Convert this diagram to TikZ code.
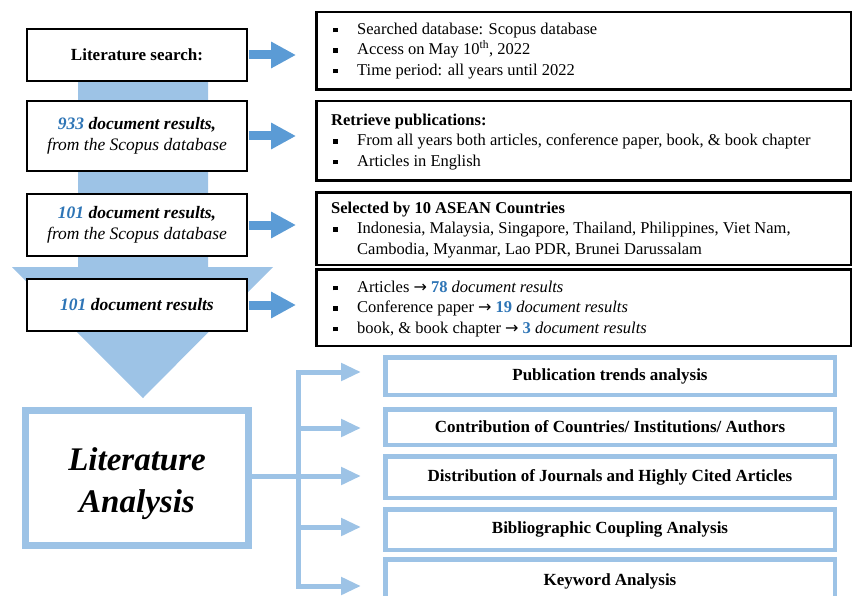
\documentclass[tikz,border=0pt]{standalone}
\usepackage{fontspec}
\setmainfont{Liberation Serif}
\newfontfamily\dejavu{DejaVu Sans}
\usetikzlibrary{arrows.meta}
\definecolor{lblue}{RGB}{157,195,230}
\definecolor{mblue}{RGB}{91,155,213}
\definecolor{nblue}{RGB}{46,117,182}
\newcommand{\bul}{\rule[2pt]{4.5pt}{4.5pt}\hspace*{19.5pt}}
\newcommand{\rarr}{{\dejavu\fontsize{16}{16}\selectfont →}}
\begin{document}
\begin{tikzpicture}[x=1pt,y=-1pt,
 lbox/.style={draw=black, line width=1.8pt, fill=white, minimum width=220pt, inner sep=0pt},
 rbox/.style={draw=black, line width=2.5pt, fill=white, minimum width=534.5pt, inner sep=0pt},
 abox/.style={draw=lblue, line width=4.5pt, fill=white, minimum width=449.5pt, inner sep=0pt, font=\fontsize{17}{20}\selectfont\bfseries},
 sarrow/.style={mblue, line width=9pt, -{Triangle[length=25pt,width=25pt]}, shorten >=19pt, shorten <=1pt},
 barrow/.style={lblue, line width=5pt, -{Triangle[length=20pt,width=17pt]}, shorten >=22pt},
 txt/.style={anchor=west, align=left, inner sep=0pt, font=\fontsize{16.5}{20.5}\selectfont},
 ltxt/.style={align=center, font=\fontsize{17.5}{21}\selectfont\itshape}
]
\useasboundingbox (0,0) rectangle (853,596);
\clip (0,0) rectangle (853,596);
% big background arrow
\fill[lblue] (78,60) -- (208,60) -- (208,267) -- (273,267) -- (143,398) -- (12,267) -- (78,267) -- cycle;
% left boxes
\node[lbox, minimum height=52.2pt, font=\fontsize{17}{20}\selectfont\bfseries] (l1) at (137,55) {Literature search:};
\node[lbox, minimum height=70.2pt, ltxt] (l2) at (137,136) {\textbf{\textcolor{nblue}{933} document results,}\\from the Scopus database};
\node[lbox, minimum height=62.2pt, ltxt] (l3) at (137,225) {\textbf{\textcolor{nblue}{101} document results,}\\from the Scopus database};
\node[lbox, minimum height=52.2pt, ltxt] (l4) at (137,305) {\textbf{\textcolor{nblue}{101} document results}};
% right boxes
\node[rbox, minimum height=77.5pt] (r1) at (583.5,51) {};
\node[rbox, minimum height=79.5pt] (r2) at (583.5,141) {};
\node[rbox, minimum height=72.5pt] (r3) at (583.5,228.5) {};
\node[rbox, minimum height=76.5pt] (r4) at (583.5,307.5) {};
\node[txt] (t1) at (333,51) {\bul Searched database: Scopus database\\\bul Access on May 10\textsuperscript{th}, 2022\\\bul Time period: all years until 2022};
\node[txt] (t2) at (331,142) {\textbf{Retrieve publications:}\\\hspace*{2pt}\bul From all years both articles, conference paper, book, \& book chapter\\\hspace*{2pt}\bul Articles in English};
\node[txt] (t3) at (331,230) {\textbf{Selected by 10 ASEAN Countries}\\\hspace*{2pt}\bul Indonesia, Malaysia, Singapore, Thailand, Philippines, Viet Nam,\\\hspace*{26pt}Cambodia, Myanmar, Lao PDR, Brunei Darussalam};
\node[txt] (t4) at (333,309) {\bul Articles \rarr{} \textbf{\textcolor{nblue}{78}} \textit{document results}\\\bul Conference paper \rarr{} \textbf{\textcolor{nblue}{19}} \textit{document results}\\\bul book, \& book chapter \rarr{} \textbf{\textcolor{nblue}{3}} \textit{document results}};
% step arrows
\draw[sarrow] (l1.east) -- (l1.east -| r1.west);
\draw[sarrow] (l2.east) -- (l2.east -| r2.west);
\draw[sarrow] (l3.east) -- (l3.east -| r3.west);
\draw[sarrow] (l4.east) -- (l4.east -| r4.west);
% literature analysis
\node[draw=lblue, line width=7pt, fill=white, minimum width=223pt, minimum height=135pt] (la) at (137,478) {};
\node[align=center, inner sep=0pt, font=\fontsize{33}{42}\selectfont\bfseries\itshape] (lat) at (137,484) {Literature\\Analysis};
\node[abox, minimum height=37.5pt] (a1) at (610,376) {Publication trends analysis};
\node[abox, minimum height=35.5pt] (a2) at (610,427) {Contribution of Countries/ Institutions/ Authors};
\node[abox, minimum height=41.5pt] (a3) at (610,477) {Distribution of Journals and Highly Cited Articles};
\node[abox, minimum height=40.5pt] (a4) at (610,529.5) {Bibliographic Coupling Analysis};
\node[abox, minimum height=40.5pt, text depth=0pt] (a5) at (610,579.5) {Keyword Analysis};
% connectors
\coordinate (c1) at (298,372);
\coordinate (c2) at (298,428);
\coordinate (c3) at (298,476);
\coordinate (c4) at (298,527);
\coordinate (c5) at (298,586);
\draw[lblue, line width=5pt, line cap=rect] (c1) -- (c5);
\draw[lblue, line width=5pt] (la.east |- c3) -- (c3);
\draw[barrow] (c1) -- (c1 -| a1.west);
\draw[barrow] (c2) -- (c2 -| a2.west);
\draw[barrow] (c3) -- (c3 -| a3.west);
\draw[barrow] (c4) -- (c4 -| a4.west);
\draw[barrow] (c5) -- (c5 -| a5.west);
\end{tikzpicture}
\end{document}
